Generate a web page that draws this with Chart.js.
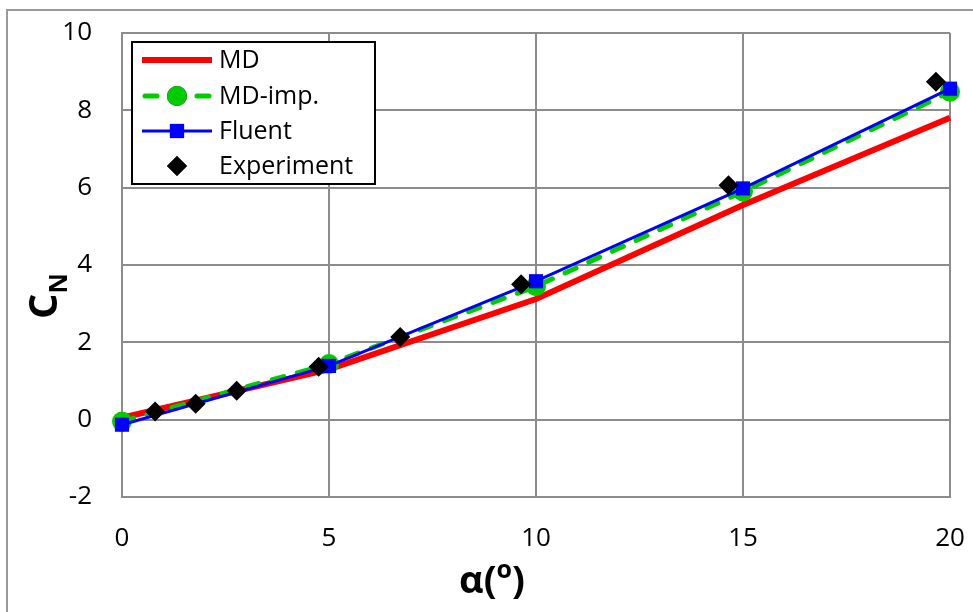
<!DOCTYPE html>
<html>
<head>
<meta charset="utf-8">
<script src="https://cdn.jsdelivr.net/npm/chart.js@4/dist/chart.umd.min.js"></script>
<style>
  html, body { margin: 0; padding: 0; background: #fff; }
  #wrap { width: 973px; height: 612px; position: relative; }
</style>
</head>
<body>
<div id="wrap"><canvas id="c" width="973" height="612"></canvas></div>
<script>
// Normal-force coefficient vs angle of attack
const alphaModel = [0, 5, 10, 15, 20];
const cnMD       = [0.05, 1.30, 3.12, 5.55, 7.81];
const cnMDimp    = [-0.05, 1.44, 3.45, 5.90, 8.48];
const cnFluent   = [-0.13, 1.39, 3.58, 5.98, 8.56];

const alphaExp = [0.80, 1.78, 2.77, 4.75, 6.72, 9.64, 14.65, 19.66];
const cnExp    = [0.21, 0.41, 0.75, 1.37, 2.14, 3.50, 6.06, 8.74];

const xTicks = [0, 5, 10, 15, 20];
const yTicks = [-2, 0, 2, 4, 6, 8, 10];

const FONT = '"Open Sans", Lato, sans-serif';
const GRID = '#8c8c8c';

const pts = (xs, ys) => xs.map((x, i) => ({ x: x, y: ys[i] }));

// Frame around the whole figure
const framePlugin = {
  id: 'frame',
  beforeDraw(chart) {
    const ctx = chart.ctx;
    ctx.save();
    ctx.fillStyle = '#fff';
    ctx.fillRect(0, 0, chart.width, chart.height);
    ctx.strokeStyle = '#999';
    ctx.lineWidth = 2;
    ctx.strokeRect(7, 10, chart.width + 20, chart.height + 20);
    ctx.restore();
  }
};

// Axis titles with sub/superscripts
const titlePlugin = {
  id: 'axisTitles',
  afterDraw(chart) {
    const ctx = chart.ctx;
    ctx.save();
    ctx.fillStyle = '#000';
    ctx.textBaseline = 'alphabetic';
    ctx.textAlign = 'left';

    // x title: α(o)
    const big = 'bold 38px ' + FONT;
    const small = 'bold 25px ' + FONT;
    ctx.font = big;
    const w1 = ctx.measureText('α(').width;
    const w3 = ctx.measureText(')').width;
    ctx.font = small;
    const w2 = ctx.measureText('o').width;
    const total = w1 + w2 + w3;
    const x = 492 - total / 2;
    const base = 593;
    ctx.font = big;
    ctx.fillText('α(', x, base);
    ctx.font = small;
    ctx.fillText('o', x + w1, base - 15);
    ctx.font = big;
    ctx.fillText(')', x + w1 + w2, base);

    // y title: C with subscript N, rotated
    ctx.translate(57, 296);
    ctx.rotate(-Math.PI / 2);
    const bigC = 'bold 40px ' + FONT;
    ctx.font = bigC;
    const wc = ctx.measureText('C').width;
    ctx.font = small;
    const wn = ctx.measureText('N').width;
    const t2 = wc + wn;
    ctx.font = bigC;
    ctx.fillText('C', -t2 / 2, 0);
    ctx.font = small;
    ctx.fillText('N', -t2 / 2 + wc, 10);
    ctx.restore();
  }
};

// Legend box drawn inside the plot area
const legendPlugin = {
  id: 'boxLegend',
  afterDraw(chart) {
    const ctx = chart.ctx;
    ctx.save();
    const L = 132, T = 42, R = 375, B = 184;
    ctx.fillStyle = '#fff';
    ctx.fillRect(L, T, R - L, B - T);
    ctx.strokeStyle = '#000';
    ctx.lineWidth = 2;
    ctx.strokeRect(L, T, R - L, B - T);

    const x0 = 142, x1 = 212, xm = 177, tx = 219;
    const rows = [60, 96, 131, 166];
    const names = chart.data.datasets.map(d => d.label);
    const order = ['MD', 'MD-imp.', 'Fluent', 'Experiment'];
    ctx.font = '25px ' + FONT;
    ctx.textBaseline = 'middle';
    ctx.textAlign = 'left';

    order.forEach((name, i) => {
      const ds = chart.data.datasets[names.indexOf(name)];
      const y = rows[i];
      if (ds.showLine !== false) {
        ctx.save();
        ctx.strokeStyle = ds.borderColor;
        ctx.lineWidth = ds.borderWidth;
        ctx.lineCap = ds.borderCapStyle || 'butt';
        ctx.setLineDash(ds.borderDash || []);
        ctx.beginPath();
        ctx.moveTo(x0 + (ds.borderCapStyle === 'round' ? 3 : 0), y);
        ctx.lineTo(x1 - (ds.borderCapStyle === 'round' ? 3 : 0), y);
        ctx.stroke();
        ctx.restore();
      }
      if (ds.pointRadius > 0) {
        Chart.helpers.drawPoint(ctx, {
          pointStyle: ds.pointStyle,
          radius: ds.pointRadius,
          rotation: 0,
          borderWidth: 0
        }, xm, y);
        ctx.fillStyle = ds.pointBackgroundColor;
        ctx.fill();
      }
      ctx.fillStyle = '#000';
      ctx.fillText(name, tx, y + 1);
    });
    ctx.restore();
  }
};

new Chart(document.getElementById('c'), {
  type: 'scatter',
  data: {
    datasets: [
      {
        label: 'Experiment',
        data: pts(alphaExp, cnExp),
        showLine: false,
        clip: false,
        pointStyle: 'rectRot',
        pointRadius: 10,
        pointBackgroundColor: '#000',
        pointBorderWidth: 0,
        borderColor: '#000',
        order: 0
      },
      {
        label: 'Fluent',
        data: pts(alphaModel, cnFluent),
        showLine: true,
        clip: false,
        borderColor: '#0000ff',
        borderWidth: 3,
        pointStyle: 'rect',
        pointRadius: 10,
        pointBackgroundColor: '#0000ff',
        pointBorderWidth: 0,
        order: 1
      },
      {
        label: 'MD-imp.',
        data: pts(alphaModel, cnMDimp),
        showLine: true,
        clip: false,
        borderColor: '#00cc00',
        borderWidth: 5,
        borderDash: [12, 14],
        borderCapStyle: 'round',
        pointStyle: 'circle',
        pointRadius: 10,
        pointBackgroundColor: '#00cc00',
        pointBorderWidth: 0,
        order: 2
      },
      {
        label: 'MD',
        data: pts(alphaModel, cnMD),
        showLine: true,
        clip: false,
        borderColor: '#ff0000',
        borderWidth: 6,
        pointRadius: 0,
        order: 3
      }
    ]
  },
  options: {
    responsive: false,
    animation: false,
    devicePixelRatio: 1,
    layout: { padding: { top: 33, right: 23, left: 0, bottom: 0 } },
    plugins: {
      legend: { display: false },
      tooltip: { enabled: false }
    },
    scales: {
      x: {
        type: 'linear',
        min: 0, max: 20,
        afterFit(s) { s.height = 115; s.paddingLeft = 0; s.paddingRight = 0; },
        afterBuildTicks(s) { s.ticks = xTicks.map(v => ({ value: v })); },
        grid: { color: GRID, lineWidth: 2, drawTicks: false },
        border: { color: GRID, width: 2 },
        ticks: { color: '#000', font: { family: FONT, size: 26 }, padding: 26, maxRotation: 0 }
      },
      y: {
        type: 'linear',
        min: -2, max: 10,
        afterFit(s) { s.width = 122; s.paddingTop = 0; s.paddingBottom = 0; },
        afterBuildTicks(s) { s.ticks = yTicks.map(v => ({ value: v })); },
        grid: { color: GRID, lineWidth: 2, drawTicks: false },
        border: { color: GRID, width: 2 },
        ticks: { color: '#000', font: { family: FONT, size: 26 }, padding: 30 }
      }
    }
  },
  plugins: [framePlugin, titlePlugin, legendPlugin]
});
</script>
</body>
</html>
